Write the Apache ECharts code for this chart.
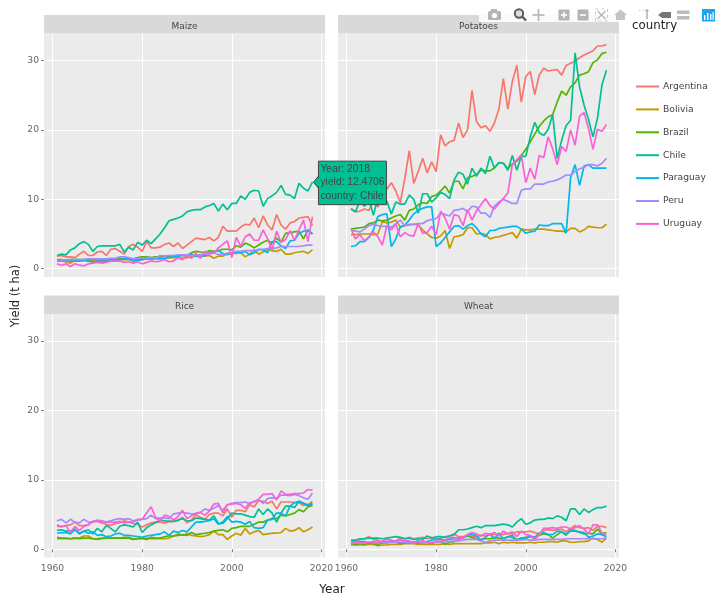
<!DOCTYPE html>
<html><head><meta charset="utf-8">
<script src="https://cdn.jsdelivr.net/npm/echarts@6/dist/echarts.min.js"></script>
<style>html,body{margin:0;padding:0;background:#fff}#c{width:720px;height:601px}</style>
</head><body><div id="c"></div>
<script>
const years=[1961,1962,1963,1964,1965,1966,1967,1968,1969,1970,1971,1972,1973,1974,1975,1976,1977,1978,1979,1980,1981,1982,1983,1984,1985,1986,1987,1988,1989,1990,1991,1992,1993,1994,1995,1996,1997,1998,1999,2000,2001,2002,2003,2004,2005,2006,2007,2008,2009,2010,2011,2012,2013,2014,2015,2016,2017,2018];
const countries=['Argentina','Bolivia','Brazil','Chile','Paraguay','Peru','Uruguay'];
const colors=['#F8766D','#C49A00','#53B400','#00C094','#00B6EB','#A58AFF','#FB61D7'];
const crops=['Maize','Potatoes','Rice','Wheat'];
const xTicks=[1960,1980,2000,2020];
const yTicks=[0,10,20,30];

const maizeArgentina=[1.8,1.9,1.7,1.7,1.6,2.1,2.5,1.9,1.9,2.4, 2.5,1.9,2.8,2.9,2.5,2.1,3.2,3.5,3.1,2.5, 3.9,3.0,3.0,3.1,3.5,3.7,3.2,3.7,2.9,3.4, 3.9,4.4,4.3,4.2,4.5,4.0,4.5,6.1,5.4,5.4, 5.4,6.0,6.4,6.3,7.3,5.9,7.6,6.3,5.6,7.8, 6.3,5.7,6.6,6.8,7.3,7.4,7.5,6.2];
const maizeBolivia=[1.1,1.1,1.0,0.8,1.2,1.2,1.2,1.2,1.1,1.2, 1.2,1.2,1.3,1.2,1.3,1.3,1.3,1.3,1.3,1.3, 1.4,1.3,1.4,1.5,1.5,1.6,1.6,1.6,1.5,1.6, 1.7,1.8,1.8,1.8,1.9,1.5,1.8,1.8,2.2,2.2, 2.2,2.3,1.7,2.1,2.7,2.1,2.4,2.8,2.6,2.5, 2.8,2.1,2.1,2.3,2.4,2.5,2.2,2.7];
const maizeBrazil=[1.3,1.3,1.2,1.3,1.3,1.3,1.3,1.3,1.3,1.4, 1.4,1.4,1.4,1.4,1.4,1.5,1.5,1.4,1.6,1.7, 1.7,1.6,1.7,1.7,1.8,1.8,1.8,1.9,1.9,1.8, 2.3,2.5,2.4,2.3,2.6,2.5,2.6,2.8,2.8,2.7, 3.3,3.1,3.7,3.4,3.0,3.4,3.8,4.1,3.7,4.4, 3.8,5.1,5.2,5.3,5.4,4.3,5.6,5.0];
const maizeChile=[1.9,2.1,2.0,2.7,3.0,3.6,3.9,3.5,2.5,3.2, 3.3,3.3,3.3,3.3,3.5,2.4,3.1,2.7,3.8,3.4, 4.1,3.6,4.3,5.0,5.9,6.9,7.1,7.3,7.6,8.2, 8.4,8.5,8.5,8.9,9.1,9.4,8.3,9.3,8.5,9.4, 9.4,10.5,10.0,11.0,11.3,11.2,9.0,10.1,10.5,11.0, 12.0,10.7,10.6,10.1,12.3,11.6,11.2,12.4706];
const maizeParaguay=[1.2,1.2,1.2,1.1,1.1,1.1,1.2,1.1,0.9,1.1, 1.1,1.1,1.1,1.2,1.3,1.4,1.4,1.1,1.2,1.3, 1.5,1.5,1.5,1.4,1.5,1.6,1.8,1.8,1.9,2.0, 2.1,1.8,1.7,1.9,2.2,2.4,2.6,2.2,2.0,2.3, 2.4,2.3,2.5,2.0,2.3,2.8,2.7,2.3,3.9,3.9, 3.3,2.9,4.0,4.1,5.1,5.4,5.5,5.0];
const maizePeru=[1.2,1.2,1.3,1.3,1.3,1.3,1.3,1.4,1.4,1.4, 1.4,1.4,1.5,1.5,1.7,1.7,1.6,1.4,1.5,1.5, 1.6,1.6,1.5,1.9,1.8,1.9,1.9,2.0,2.0,2.0, 1.9,2.0,2.0,2.1,2.1,2.3,2.0,2.1,2.2,2.3, 2.5,2.5,2.6,2.6,2.6,2.7,2.8,2.9,2.9,3.0, 3.2,3.2,3.2,3.2,3.2,3.3,3.4,3.4];
const maizeUruguay=[0.7,0.5,0.7,0.3,0.7,0.5,0.4,0.7,0.8,0.9, 0.8,0.9,1.1,1.1,1.1,0.9,1.0,0.8,1.0,0.7, 0.9,1.1,1.0,1.1,1.3,1.0,1.1,1.6,1.3,1.9, 1.5,2.2,1.5,2.5,2.3,2.2,3.0,3.5,4.0,1.6, 4.5,3.2,4.6,5.0,4.1,4.1,5.6,4.3,2.7,5.4, 3.8,4.2,5.5,4.1,5.6,7.0,3.9,7.5];

const potatoesArgentina=[8.7,8.2,8.3,8.6,8.4,9.8,8.9,10.5,11.5,12.4, 11.2,9.5,13.0,17.0,12.3,14.0,15.9,13.8,15.4,14.0, 19.3,17.7,18.3,18.5,21.0,18.9,20.0,25.7,21.2,20.3, 20.6,19.8,21.0,23.0,27.4,23.0,27.0,29.3,24.0,27.7, 28.4,25.1,27.9,28.9,28.5,28.6,28.7,27.9,29.3,29.6, 29.9,30.4,30.8,31.1,31.4,32.1,32.1,32.3];
const potatoesBolivia=[4.9,4.9,5.0,5.0,5.0,4.9,5.0,6.8,6.6,6.7, 7.0,6.0,6.2,6.3,6.4,6.3,5.6,5.0,4.5,4.4, 4.7,5.5,2.9,4.6,4.7,4.9,5.9,5.9,5.0,5.1, 4.9,4.3,4.5,4.6,4.8,5.0,5.2,4.4,5.7,5.6, 5.6,5.7,5.7,5.7,5.6,5.5,5.4,5.4,5.3,5.8, 5.8,5.3,5.6,6.1,6.0,5.9,5.9,6.4];
const potatoesBrazil=[5.7,5.8,5.9,6.0,6.5,6.6,7.0,6.9,7.0,7.3, 7.6,7.8,7.0,8.4,8.6,9.2,9.5,9.4,10.4,10.6, 11.2,11.9,10.9,12.6,12.6,11.5,13.1,13.3,13.6,14.2, 14.1,14.1,14.5,15.3,15.2,14.4,15.1,15.5,16.3,17.2, 18.3,19.4,20.5,21.3,21.9,22.2,24.0,25.6,25.0,26.2, 26.8,27.9,28.1,28.4,29.7,30.1,31.0,31.2];
const potatoesChile=[8.6,8.2,9.8,9.0,10.0,7.7,10.3,10.6,9.7,7.9, 9.6,9.3,9.3,10.6,10.0,8.0,10.8,10.8,9.6,10.2, 11.0,10.7,10.1,12.8,13.9,13.6,12.2,14.5,13.3,14.5, 13.7,16.2,14.5,15.3,15.2,14.2,16.3,14.2,16.2,16.2, 19.0,21.1,19.6,19.2,20.1,22.2,15.9,18.5,20.6,21.4, 31.1,26.2,23.6,21.5,19.0,21.7,26.5,28.6];
const potatoesParaguay=[3.2,3.3,3.9,3.9,4.5,5.6,7.5,7.8,7.9,3.2, 4.3,6.0,6.3,7.0,7.9,8.4,8.7,8.9,8.9,3.2, 3.7,4.5,5.3,6.1,6.2,5.7,6.2,6.5,5.9,5.0, 4.6,5.5,5.5,5.8,5.9,6.0,6.1,6.1,5.7,5.1, 5.3,5.4,6.3,6.2,6.2,6.5,6.5,6.5,5.1,13.1, 15.0,12.0,14.8,15.0,14.5,14.5,14.5,14.5];
const potatoesPeru=[5.5,5.4,5.3,5.7,6.2,6.4,6.2,6.1,6.1,6.0, 6.5,7.0,6.2,6.4,6.4,6.5,6.5,6.9,7.1,7.2, 8.0,7.8,7.6,8.4,8.5,8.7,8.2,9.0,8.9,8.0, 8.0,7.4,9.0,9.6,10.0,9.7,9.4,9.4,11.3,11.5, 11.5,12.2,12.2,12.2,12.5,12.6,12.8,13.1,13.5,13.5, 14.0,14.4,14.6,15.0,15.0,14.8,15.2,15.9];
const potatoesUruguay=[5.8,4.3,4.9,4.0,4.6,5.3,4.6,3.4,6.2,5.6, 6.4,4.6,5.2,4.8,4.7,6.5,5.1,5.2,6.1,4.9, 8.3,7.3,5.7,7.8,7.6,6.2,8.5,7.0,8.3,9.2, 10.1,9.1,8.6,9.4,10.1,10.9,15.0,15.7,16.4,12.4, 14.5,12.9,16.3,16.0,19.0,17.3,15.0,17.6,16.9,20.0, 17.8,22.0,22.5,20.2,17.2,20.1,19.8,20.8];

const riceArgentina=[3.3,3.3,3.4,3.5,3.9,3.4,3.4,3.5,4.0,4.0, 3.8,3.6,3.4,3.7,3.8,4.1,3.9,3.7,3.6,3.2, 3.5,3.8,3.9,3.9,3.8,4.0,4.0,4.1,4.6,3.8, 4.2,5.0,4.6,4.3,5.0,5.2,5.2,4.8,5.8,4.6, 5.6,5.6,5.4,6.4,6.1,7.0,6.9,6.6,6.9,5.8, 6.8,6.8,6.8,6.7,6.7,6.3,6.4,6.9];
const riceBolivia=[1.5,1.5,1.5,1.5,1.6,1.6,1.9,1.9,1.5,1.4, 1.5,1.6,1.6,1.6,1.6,1.7,1.7,1.5,1.5,1.5, 1.6,1.5,1.5,1.5,1.5,1.6,1.9,2.2,2.0,2.2, 2.0,1.9,1.8,1.9,2.1,2.6,2.1,2.1,1.4,1.9, 2.3,2.0,3.0,2.2,2.5,2.7,2.1,2.2,2.3,2.3, 2.4,3.0,2.6,2.7,3.1,2.5,2.8,3.2];
const riceBrazil=[1.7,1.6,1.6,1.5,1.6,1.5,1.6,1.6,1.5,1.5, 1.6,1.6,1.6,1.6,1.6,1.6,1.6,1.4,1.5,1.6, 1.4,1.7,1.6,1.6,1.8,1.9,1.9,2.0,2.1,2.0, 2.4,2.1,2.2,2.3,2.4,2.6,2.7,2.8,2.5,3.0, 3.1,3.3,3.3,3.3,3.6,3.9,3.9,4.2,4.4,4.4, 4.9,4.8,5.0,5.2,5.7,5.4,6.1,6.3];
const riceChile=[2.7,2.8,2.6,2.6,2.9,2.2,2.6,2.8,2.2,3.0, 2.5,3.4,3.0,2.5,3.3,3.5,3.4,3.2,3.9,2.4, 3.1,3.5,3.8,4.2,4.1,4.0,4.0,4.2,4.4,4.1, 4.1,4.5,4.4,4.3,4.2,4.8,3.7,3.7,4.4,5.2, 5.1,5.1,4.9,4.7,4.6,5.8,5.0,5.8,5.2,3.9, 5.2,6.2,6.2,6.0,6.9,6.6,6.3,6.6];
const riceParaguay=[2.3,2.4,2.4,2.2,2.8,2.3,2.6,2.3,2.5,2.0, 2.1,1.8,1.9,2.2,2.3,2.0,2.0,1.9,1.8,1.7, 1.9,2.0,2.1,2.2,2.5,2.0,2.6,2.4,2.7,2.5, 3.2,3.9,3.9,4.0,4.1,4.4,3.6,3.9,4.7,3.9, 4.0,3.9,3.6,4.0,3.1,3.0,3.1,4.2,4.3,5.2, 5.2,4.8,6.2,6.7,6.9,6.6,6.4,6.4];
const ricePeru=[4.1,4.3,3.8,4.3,3.9,3.8,4.3,3.9,3.9,4.2, 4.1,3.9,4.1,4.3,4.4,4.3,4.4,4.1,4.2,4.3, 4.4,4.9,4.4,4.5,4.5,4.4,5.1,5.2,5.3,5.2, 5.1,5.1,5.3,5.8,5.6,5.9,6.3,5.6,6.4,6.6, 6.7,6.7,6.8,6.5,6.9,7.1,6.6,7.3,7.4,7.3, 7.8,7.8,7.7,7.9,7.7,7.4,7.2,8.1];
const riceUruguay=[3.5,3.2,3.4,2.4,3.3,2.7,3.3,3.5,4.0,4.0, 4.0,3.9,3.9,3.9,4.0,3.8,3.9,3.9,4.3,4.3, 5.2,6.1,4.6,4.1,4.9,4.7,4.2,4.7,5.6,4.4, 4.8,5.2,5.3,4.9,5.5,6.5,6.6,5.2,6.4,6.5, 6.6,6.4,5.9,6.7,6.8,7.2,7.9,7.9,8.0,7.1, 8.4,7.9,7.9,8.0,8.0,8.1,8.6,8.5];

const wheatArgentina=[1.2,1.1,1.4,1.5,1.8,1.4,1.3,1.0,1.1,1.1, 1.2,1.6,1.5,1.7,1.5,1.6,1.7,1.5,1.7,1.5, 1.6,1.8,1.9,2.2,1.8,1.8,2.0,1.9,1.8,2.0, 1.9,2.2,2.1,2.2,2.1,2.3,2.2,2.5,2.5,2.5, 2.6,2.4,2.2,2.7,2.8,2.7,2.8,2.9,2.5,3.0, 3.4,3.1,3.0,3.1,2.7,3.3,3.3,3.1];
const wheatBolivia=[0.6,0.6,0.6,0.6,0.7,0.7,0.5,0.6,0.6,0.7, 0.7,0.7,0.8,0.8,0.8,0.7,0.7,0.7,0.7,0.7, 0.7,0.8,0.7,0.8,0.8,0.8,0.8,0.8,0.8,0.8, 0.9,0.9,1.0,0.8,1.0,0.9,1.0,0.9,0.9,0.9, 1.0,0.9,1.0,1.0,1.1,1.1,1.0,1.2,1.2,1.0, 1.0,1.1,1.1,1.2,1.6,1.4,1.0,1.6];
const wheatBrazil=[0.8,0.7,0.8,0.7,0.9,0.8,0.7,0.9,0.9,1.0, 1.0,0.8,0.9,1.1,1.0,0.8,1.0,1.0,0.8,1.1, 1.1,0.7,1.0,1.1,1.5,1.6,1.9,1.7,1.5,1.4, 1.5,1.5,1.7,1.6,1.5,1.8,1.7,1.4,1.6,1.7, 1.8,1.6,2.0,2.2,2.1,1.6,2.1,2.5,2.0,2.8, 2.7,2.4,2.2,2.3,2.2,2.9,2.2,2.4];
const wheatChile=[1.3,1.3,1.5,1.5,1.6,1.6,1.6,1.5,1.6,1.7, 1.8,1.7,1.5,1.6,1.4,1.5,1.4,1.9,1.6,1.8, 1.8,1.7,1.9,2.1,2.8,2.8,2.9,3.1,3.3,3.1, 3.4,3.4,3.4,3.5,3.6,3.5,3.2,3.9,4.4,3.6, 3.8,4.2,4.3,4.3,4.5,4.4,4.8,4.6,4.1,5.8, 5.8,5.0,5.8,5.3,5.7,6.0,6.0,6.2];
const wheatParaguay=[1.0,0.9,1.1,1.1,0.9,1.1,1.0,1.1,1.0,1.2, 1.1,1.3,1.1,1.1,1.0,1.2,0.9,1.1,1.3,1.5, 1.4,1.3,1.4,1.5,1.6,1.6,2.1,2.2,1.9,1.3, 1.7,2.2,1.5,2.3,1.5,1.8,2.0,1.2,1.6,1.5, 1.9,1.7,2.3,2.4,2.1,2.1,2.6,2.5,2.2,2.6, 2.6,2.5,2.4,1.7,1.9,2.2,2.1,1.8];
const wheatPeru=[0.9,0.9,0.9,0.9,1.0,0.9,0.9,1.0,1.0,1.0, 1.0,1.0,1.0,1.0,1.0,1.0,0.9,0.9,1.0,1.0, 1.1,1.1,1.1,1.2,1.2,1.3,1.4,1.4,1.4,1.2, 1.0,1.2,1.3,1.3,1.3,1.3,1.3,1.3,1.3,1.4, 1.3,1.3,1.4,1.4,1.4,1.4,1.4,1.4,1.5,1.5, 1.5,1.5,1.5,1.5,1.5,1.5,1.5,1.6];
const wheatUruguay=[0.7,1.0,0.8,1.0,1.0,1.1,0.8,1.2,1.4,1.3, 1.1,1.3,1.2,1.2,0.9,1.0,1.2,1.0,0.9,1.2, 1.1,1.3,1.7,1.7,1.4,1.6,2.1,2.4,2.2,1.9, 2.3,2.1,2.4,1.9,2.6,2.2,2.5,1.8,2.6,2.1, 2.0,1.4,2.1,3.0,3.0,3.1,3.0,3.2,3.2,2.9, 3.1,3.4,2.9,2.2,3.5,3.5,2.3,2.1];

const cropSeries=[
 [maizeArgentina,maizeBolivia,maizeBrazil,maizeChile,maizeParaguay,maizePeru,maizeUruguay],
 [potatoesArgentina,potatoesBolivia,potatoesBrazil,potatoesChile,potatoesParaguay,potatoesPeru,potatoesUruguay],
 [riceArgentina,riceBolivia,riceBrazil,riceChile,riceParaguay,ricePeru,riceUruguay],
 [wheatArgentina,wheatBolivia,wheatBrazil,wheatChile,wheatParaguay,wheatPeru,wheatUruguay]
];

const panelLeft=[44,338,44,338], panelTop=[33.5,33.5,314,314], panelW=281, panelH=243.5, stripH=18.5;
const FONT='"DejaVu Sans",Verdana,sans-serif';
const chart=echarts.init(document.getElementById('c'),null,{renderer:'canvas'});
const grids=[],xAxes=[],yAxes=[],series=[],gfx=[];
crops.forEach((crop,i)=>{
  grids.push({left:panelLeft[i],top:panelTop[i],width:panelW,height:panelH,show:true,backgroundColor:'#ebebeb',borderWidth:0,containLabel:false});
  const bottomRow=i>=2, leftCol=i%2===0;
  xAxes.push({type:'value',gridIndex:i,min:1958.1,max:2020.8,interval:20,
    axisLine:{show:false},
    axisTick:{show:bottomRow,length:3,lineStyle:{color:'#7f7f7f',width:1},customValues:xTicks},
    axisLabel:{show:bottomRow,color:'#666',fontSize:9.2,fontFamily:FONT,margin:7,customValues:xTicks,formatter:v=>String(v)},
    splitLine:{show:true,lineStyle:{color:'#fff',width:1}}});
  yAxes.push({type:'value',gridIndex:i,min:-1.2,max:33.9,interval:10,
    axisLine:{show:false},
    axisTick:{show:leftCol,length:3,lineStyle:{color:'#7f7f7f',width:1},customValues:yTicks},
    axisLabel:{show:leftCol,color:'#666',fontSize:9.2,fontFamily:FONT,margin:5,customValues:yTicks,formatter:v=>String(v)},
    splitLine:{show:true,lineStyle:{color:'#fff',width:1}}});
  countries.forEach((c,k)=>{
    series.push({name:c,type:'line',xAxisIndex:i,yAxisIndex:i,showSymbol:false,symbol:'none',silent:true,
      lineStyle:{color:colors[k],width:1.7},itemStyle:{color:colors[k]},z:3+k,
      data:years.map((y,t)=>[y,cropSeries[i][k][t]])});
  });
  const stripY=panelTop[i]-stripH;
  gfx.push({type:'rect',shape:{x:panelLeft[i],y:stripY,width:panelW,height:stripH},style:{fill:'#d9d9d9'},z:1,silent:true});
  gfx.push({type:'text',x:panelLeft[i]+panelW/2,y:stripY+stripH/2+2,style:{text:crop,fill:'#444',font:'9px '+FONT,textAlign:'center',textVerticalAlign:'middle'},z:2,silent:true});
});
chart.setOption({animation:false,backgroundColor:'#fff',grid:grids,xAxis:xAxes,yAxis:yAxes,series,
  legend:{show:true,left:636,top:79.5,padding:0,orient:'vertical',itemWidth:23,itemHeight:2,itemGap:8.9,icon:'rect',selectedMode:false,
    data:countries,textStyle:{color:'#444',fontSize:9.2,fontFamily:FONT,padding:[0,0,0,-1],lineHeight:14}}});

// axis titles, legend title
gfx.push({type:'text',x:332,y:589.5,style:{text:'Year',fill:'#222',font:'12px '+FONT,textAlign:'center',textVerticalAlign:'middle'},silent:true});
gfx.push({type:'text',x:16.5,y:296,rotation:Math.PI/2,style:{text:'Yield (t ha)',fill:'#222',font:'11.5px '+FONT,textAlign:'center',textVerticalAlign:'middle'},silent:true});

// plotly mode bar
const G='#b4b4b4',D='#5a5a5a';
gfx.push({type:'rect',shape:{x:479,y:0,width:241,height:22},style:{fill:'#fff',opacity:0.85},z:50,silent:true});
gfx.push({type:'text',x:632,y:25.5,style:{text:'country',fill:'#222',font:'11.8px '+FONT,textAlign:'left',textVerticalAlign:'middle'},z:60,silent:true});
const icons=[
 {type:'rect',shape:{x:488,y:11,width:13,height:9,r:1.5},style:{fill:G}},
 {type:'rect',shape:{x:491,y:9,width:6,height:3},style:{fill:G}},
 {type:'circle',shape:{cx:494.5,cy:15.5,r:2.6},style:{fill:'#fff'}},
 {type:'circle',shape:{cx:519,cy:13.5,r:4.2},style:{fill:'#ddd',stroke:D,lineWidth:2}},
 {type:'line',shape:{x1:522,y1:16.5,x2:526,y2:20.5},style:{stroke:D,lineWidth:2.4}},
 {type:'line',shape:{x1:538.5,y1:9,x2:538.5,y2:21},style:{stroke:G,lineWidth:1.6}},
 {type:'line',shape:{x1:532.5,y1:15,x2:544.5,y2:15},style:{stroke:G,lineWidth:1.6}},
 {type:'rect',shape:{x:558.5,y:9.5,width:11,height:11,r:1},style:{fill:G}},
 {type:'rect',shape:{x:561,y:14.2,width:6,height:1.6},style:{fill:'#fff'}},
 {type:'rect',shape:{x:563.2,y:12,width:1.6,height:6},style:{fill:'#fff'}},
 {type:'rect',shape:{x:577.5,y:9.5,width:11,height:11,r:1},style:{fill:G}},
 {type:'rect',shape:{x:580,y:14.2,width:6,height:1.6},style:{fill:'#fff'}},
 {type:'rect',shape:{x:595.5,y:9,width:12,height:12},style:{fill:'none',stroke:'#ccc',lineWidth:1,lineDash:[3,3]}},
 {type:'line',shape:{x1:597.5,y1:11,x2:605.5,y2:19},style:{stroke:G,lineWidth:1.2}},
 {type:'line',shape:{x1:605.5,y1:11,x2:597.5,y2:19},style:{stroke:G,lineWidth:1.2}},
 {type:'polygon',shape:{points:[[620.5,9.5],[627,15],[625,15],[625,20],[616,20],[616,15],[614,15]]},style:{fill:'#c4c4c4'}},
 {type:'line',shape:{x1:639,y1:10.5,x2:646,y2:10.5},style:{stroke:'#ccc',lineWidth:1,lineDash:[1.5,1.5]}},
 {type:'line',shape:{x1:647,y1:12,x2:647,y2:19},style:{stroke:G,lineWidth:1.6}},
 {type:'circle',shape:{cx:647,cy:10.5,r:1.5},style:{fill:G}},
 {type:'polygon',shape:{points:[[658,15],[662,12],[671,12],[671,18],[662,18]]},style:{fill:'#777'}},
 {type:'polygon',shape:{points:[[677,10.5],[689.5,10.5],[689.5,14],[677,14]]},style:{fill:'#bbb'}},
 {type:'polygon',shape:{points:[[677,16],[689.5,16],[689.5,19.5],[677,19.5]]},style:{fill:'#bbb'}},
 {type:'rect',shape:{x:702,y:9,width:13,height:12.5},style:{fill:'#1da5f2'}},
 {type:'rect',shape:{x:704,y:15,width:1.4,height:5},style:{fill:'#fff'}},
 {type:'rect',shape:{x:707,y:13,width:1.4,height:7},style:{fill:'#fff'}},
 {type:'rect',shape:{x:710,y:14,width:1.4,height:6},style:{fill:'#fff'}},
 {type:'rect',shape:{x:712.5,y:12,width:1.2,height:8},style:{fill:'#fff'}}
];
icons.forEach(o=>{o.z=60;o.silent=true;gfx.push(o);});

// pinned hover label, anchored on the Chile maize 2018 point
const hp=chart.convertToPixel({xAxisIndex:0,yAxisIndex:0},[2018,maizeChile[57]]);
const tipX=hp[0]+6,tipY=hp[1]-21;
gfx.push({type:'polygon',shape:{points:[[hp[0]+1,hp[1]],[tipX,hp[1]-6],[tipX,hp[1]+6]]},style:{fill:'#00C094',stroke:'#444',lineWidth:1},z:70,silent:true});
gfx.push({type:'rect',shape:{x:tipX,y:tipY,width:68,height:43.5},style:{fill:'#00C094',stroke:'#444',lineWidth:1},z:71,silent:true});
gfx.push({type:'polygon',shape:{points:[[hp[0]+2,hp[1]],[tipX+1,hp[1]-5.4],[tipX+1,hp[1]+5.4]]},style:{fill:'#00C094'},z:72,silent:true});
['Year: 2018','yield: 12.4706','country: Chile'].forEach((t,i)=>{
  gfx.push({type:'text',x:tipX+2,y:tipY+8+i*13.4,style:{text:t,fill:'#444',font:'10.3px "Liberation Sans",Arial,sans-serif',textAlign:'left',textVerticalAlign:'middle'},z:73,silent:true});
});
chart.setOption({graphic:{elements:gfx}});
</script></body></html>
